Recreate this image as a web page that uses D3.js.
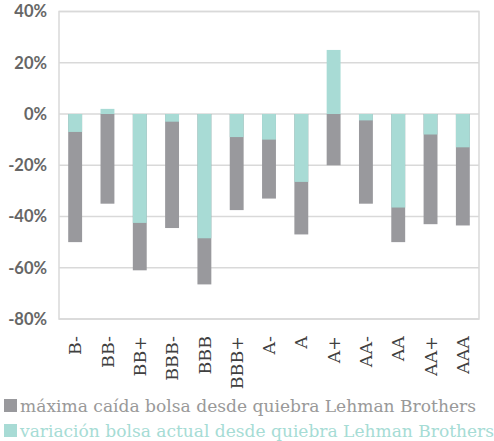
<!DOCTYPE html>
<html><head><meta charset="utf-8">
<script src="https://cdn.jsdelivr.net/npm/d3@7"></script>
<style>body{margin:0;background:#fff}svg{display:block}</style>
</head><body>
<script>
const categories = ["B-","BB-","BB+","BBB-","BBB","BBB+","A-","A","A+","AA-","AA","AA+","AAA"];
const maxDrop = [-50,-35,-61,-44.5,-66.5,-37.5,-33,-47,-20,-35,-50,-43,-43.5];
const current = [-7,2,-42.5,-3,-48.5,-9,-10,-26.5,25,-2.5,-36.5,-8,-13];
const yTicks = [40,20,0,-20,-40,-60,-80];
const seriesNames = ["máxima caída bolsa desde quiebra Lehman Brothers","variación bolsa actual desde quiebra Lehman Brothers"];
const colors = ["#99999d","#a8dbd5"];

const W=494,H=441;
const m={left:59,right:15,top:11.5,bottom:122};
const svg=d3.select("body").append("svg").attr("width",W).attr("height",H);
const x=d3.scaleBand().domain(categories).range([m.left,W-m.right]).paddingInner(0.57).paddingOuter(0.285);
const y=d3.scaleLinear().domain([-80,40]).range([H-m.bottom,m.top]);

// grid
svg.append("g").selectAll("line").data(yTicks).join("line")
  .attr("x1",m.left).attr("x2",W-m.right).attr("y1",d=>y(d)).attr("y2",d=>y(d))
  .attr("stroke","#d9d9d9").attr("stroke-width",1.5);
svg.append("rect").attr("x",m.left).attr("y",y(40)).attr("width",W-m.right-m.left).attr("height",y(-80)-y(40))
  .attr("fill","none").attr("stroke","#d9d9d9").attr("stroke-width",1.5);

// y axis
const ya=svg.append("g").attr("transform",`translate(${m.left},0)`)
  .call(d3.axisLeft(y).tickValues(yTicks).tickFormat(d=>d+"%").tickSize(0).tickPadding(12));
ya.select(".domain").remove();
ya.selectAll("text").attr("font-family","Lato, 'Open Sans', sans-serif").attr("font-weight","bold")
  .attr("font-size","16.5px").attr("fill","#666666");

// bars
const data=categories.map((c,i)=>({c,g:maxDrop[i],t:current[i]}));
svg.append("g").selectAll("rect").data(data).join("rect")
  .attr("x",d=>x(d.c)).attr("width",x.bandwidth())
  .attr("y",d=>y(Math.max(0,d.g))).attr("height",d=>Math.abs(y(d.g)-y(0)))
  .attr("fill",colors[0]);
svg.append("g").selectAll("rect").data(data).join("rect")
  .attr("x",d=>x(d.c)).attr("width",x.bandwidth())
  .attr("y",d=>y(Math.max(0,d.t))).attr("height",d=>Math.abs(y(d.t)-y(0)))
  .attr("fill",colors[1]);

// x axis labels
const xa=svg.append("g").attr("transform",`translate(0,${y(-80)})`)
  .call(d3.axisBottom(x).tickSize(0));
xa.select(".domain").remove();
xa.selectAll("text").attr("transform","rotate(-90)").attr("text-anchor","end")
  .attr("x",-17).attr("y",0).attr("dy","0.35em")
  .attr("font-family","'DejaVu Serif', serif").attr("font-size","17.5px").attr("fill","#404040");

// legend
const lg=svg.append("g");
seriesNames.forEach((s,i)=>{
  const yy=399+i*25;
  lg.append("rect").attr("x",4).attr("y",yy).attr("width",13).attr("height",13).attr("fill",colors[i]);
  lg.append("text").attr("x",20).attr("y",yy+12.5).text(s)
    .attr("font-family","'DejaVu Serif', serif").attr("font-size","17px").attr("fill",i?"#a6dcd5":"#999999")
    .attr("textLength",i?474:456).attr("lengthAdjust","spacingAndGlyphs");
});
</script>
</body></html>
